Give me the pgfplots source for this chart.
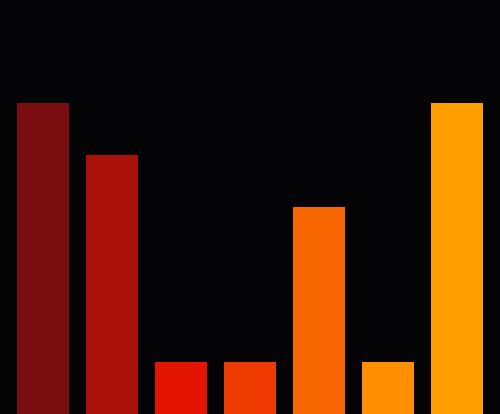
\documentclass[border=0pt]{standalone}
\usepackage{pgfplots}
\pgfplotsset{compat=1.18}
\definecolor{bg}{HTML}{040305}
\definecolor{c1}{HTML}{7A0D10}
\definecolor{c2}{HTML}{AB1108}
\definecolor{c3}{HTML}{E31500}
\definecolor{c4}{HTML}{EE3A00}
\definecolor{c5}{HTML}{F76600}
\definecolor{c6}{HTML}{FF8E00}
\definecolor{c7}{HTML}{FFA000}
\begin{document}
\begin{tikzpicture}
    \fill[bg] (0,0) rectangle (500bp,414bp);
    \begin{axis}[
        at={(0,0)}, anchor=south west,
        scale only axis,
        width=500bp, height=414bp,
        xmin=-0.623, xmax=6.623,
        ymin=0, ymax=8,
        axis lines=none,
        ticks=none,
        ybar, bar width=0.754, bar shift=0pt,
        ]
        \addplot[fill=c1, draw=none] coordinates {(0,6)};
        \addplot[fill=c2, draw=none] coordinates {(1,5)};
        \addplot[fill=c3, draw=none] coordinates {(2,1)};
        \addplot[fill=c4, draw=none] coordinates {(3,1)};
        \addplot[fill=c5, draw=none] coordinates {(4,4)};
        \addplot[fill=c6, draw=none] coordinates {(5,1)};
        \addplot[fill=c7, draw=none] coordinates {(6,6)};
    \end{axis}
\end{tikzpicture}
\end{document}
